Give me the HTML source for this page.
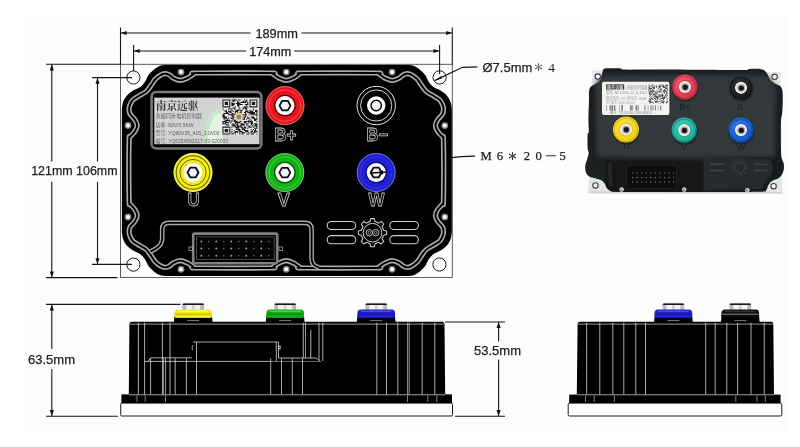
<!DOCTYPE html>
<html lang="zh">
<head>
<meta charset="utf-8">
<title>Controller dimensions</title>
<style>
  html, body { margin: 0; padding: 0; background: #ffffff; }
  body { width: 800px; height: 447px; overflow: hidden; position: relative;
         font-family: "Liberation Sans", "Noto Sans CJK SC", sans-serif; }
  svg { position: absolute; left: 0; top: 0; display: block; will-change: transform; filter: blur(0.4px); }
  .dim { font-family: "Liberation Sans", sans-serif; font-size: 13px; fill: #1c1c1c; stroke: #1c1c1c; stroke-width: 0.25px; }
  .ser { font-family: "Liberation Serif", "Noto Serif CJK SC", serif; fill: #1c1c1c; }
  .ln  { stroke: #1a1a1a; stroke-width: 1; fill: none; }
  .wl  { stroke: #ffffff; stroke-width: 0.8; fill: none; }
  .ol  { font-family: "Liberation Sans", sans-serif; fill: #000; stroke: #e2e2e2; stroke-width: 1; text-anchor: middle; }
</style>
</head>
<body>
<svg width="800" height="447" viewBox="0 0 800 447" role="img" aria-label="Controller dimension drawing">
  <rect x="0" y="0" width="800" height="447" fill="#ffffff"/>
  <rect x="26" y="16" width="762" height="417" fill="#fdfdfd"/>
  <g id="topview">
  <rect x="120.5" y="64.3" width="331.8" height="213.1" fill="#ffffff" stroke="#4a4a4a" stroke-width="0.9"/>
  <circle cx="133.4" cy="77.5" r="6.6" fill="#fff" stroke="#1a1a1a" stroke-width="1"/>
  <circle cx="439.6" cy="77.4" r="6.6" fill="#fff" stroke="#1a1a1a" stroke-width="1"/>
  <circle cx="133.4" cy="264.6" r="6.6" fill="#fff" stroke="#1a1a1a" stroke-width="1"/>
  <circle cx="439.4" cy="264.5" r="6.6" fill="#fff" stroke="#1a1a1a" stroke-width="1"/>
  <path fill="#000" transform="translate(0.55,0.1)" d="M121.3,108.5  C121.5,107.3 121.9,103.8 122.7,101.6 C123.6,99.4 124.8,97.2 126.4,95.4 C128.1,93.6 130.3,92 132.6,90.5 C134.9,89 138.1,88.1 140.1,86.6 C142.1,85.1 143.3,83.4 144.6,81.5 C145.9,79.6 146.5,77 148,75 C149.5,73 151.8,70.9 153.6,69.4 C155.5,67.9 157.4,66.7 159.1,66 C160.8,65.3 162.9,65.2 163.6,65 L409,65  C409.8,65.2 411.8,65.3 413.5,66 C415.2,66.7 417.1,67.9 419,69.4 C420.9,70.9 423.1,73 424.6,75 C426.1,77 426.7,79.6 428,81.5 C429.3,83.4 430.5,85.1 432.5,86.6 C434.5,88.1 437.7,89 440,90.5 C442.3,92 444.6,93.6 446.2,95.4 C447.8,97.2 449,99.4 449.9,101.6 C450.8,103.8 451.1,107.3 451.3,108.5 L451.3,232.5  C451.1,233.7 450.8,237.2 449.9,239.4 C449,241.6 447.8,243.8 446.2,245.6 C444.6,247.4 442.3,249 440,250.5 C437.7,252 434.5,252.9 432.5,254.4 C430.5,255.9 429.3,257.6 428,259.5 C426.7,261.4 426.1,264 424.6,266 C423.1,268 420.9,270.1 419,271.6 C417.1,273.1 415.2,274.3 413.5,275 C411.8,275.7 409.8,275.8 409,276 L163.6,276  C162.9,275.8 160.8,275.7 159.1,275 C157.4,274.3 155.5,273.1 153.6,271.6 C151.8,270.1 149.5,268 148,266 C146.5,264 145.9,261.4 144.6,259.5 C143.3,257.6 142.1,255.9 140.1,254.4 C138.1,252.9 134.9,252 132.6,250.5 C130.3,249 128.1,247.4 126.4,245.6 C124.8,243.8 123.6,241.6 122.7,239.4 C121.9,237.2 121.5,233.7 121.3,232.5Z"/>
  <path d="M286.3,80.4 C288.6,80.4 291.1,79.1 293.3,78.1 C295.5,77.1 297.5,75.1 299.3,74.2 C301.1,73.3 291.8,73.2 304.3,73 C316.8,72.8 361.6,72.8 374.1,73 C386.6,73.2 377.3,73.3 379.1,74.2 C380.9,75.1 382.9,77.1 385.1,78.1 C387.3,79.1 389.8,80.4 392.1,80.4 C394.4,80.4 397.3,79 399.1,78.1 C400.9,77.2 401.8,75.8 403,75.1 C404.2,74.4 405.3,73.9 406.3,73.7 C407.3,73.5 408.2,73.7 409.2,73.9 C410.2,74.2 410.8,74.3 412.2,75.2 C413.6,76.1 416.1,77.8 417.6,79.5 C419.1,81.2 419.9,83.1 421.4,85.1 C422.9,87.1 424.4,89.8 426.5,91.6 C428.6,93.4 431.9,94.8 434.2,96.2 C436.4,97.6 438.6,98.7 440,100.2 C441.4,101.7 442.2,103.8 442.8,105.4 C443.4,107 443.6,108.1 443.5,109.6 C443.4,111 443.4,112.4 442.5,114.1 C441.6,115.8 439,117.7 437.8,119.6 C436.6,121.5 435.4,123.6 435.4,125.6 C435.4,127.6 436.6,129.7 437.8,131.6 C439,133.5 441.6,135.3 442.5,137.1 C443.4,138.8 443.3,131.8 443.5,142.1 C443.7,152.4 443.7,188.6 443.5,198.9 C443.3,209.2 443.4,202.2 442.5,203.9 C441.6,205.7 439,207.5 437.8,209.4 C436.6,211.3 435.4,213.4 435.4,215.4 C435.4,217.4 436.6,219.5 437.8,221.4 C439,223.3 441.6,225.2 442.5,226.9 C443.4,228.6 443.4,230 443.5,231.4 C443.6,232.8 443.4,234 442.8,235.6 C442.2,237.2 441.4,239.3 440,240.8 C438.6,242.3 436.4,243.4 434.2,244.8 C431.9,246.2 428.6,247.6 426.5,249.4 C424.4,251.2 422.9,253.9 421.4,255.9 C419.9,257.9 419.1,259.9 417.6,261.5 C416.1,263.1 413.6,264.9 412.2,265.8 C410.8,266.7 410.2,266.9 409.2,267.1 C408.2,267.4 407.3,267.5 406.3,267.3 C405.3,267.1 404.2,266.6 403,265.9 C401.8,265.2 400.9,263.8 399.1,262.9 C397.3,262 394.4,260.6 392.1,260.6 C389.8,260.6 387.3,261.9 385.1,262.9 C382.9,263.9 380.9,265.9 379.1,266.8 C377.3,267.7 386.6,267.8 374.1,268 C361.6,268.2 316.8,268.2 304.3,268 C291.8,267.8 301.1,267.7 299.3,266.8 C297.5,265.9 295.5,263.9 293.3,262.9 C291.1,261.9 288.6,260.6 286.3,260.6 C284,260.6 281.5,261.9 279.3,262.9 C277.1,263.9 275.1,265.9 273.3,266.8 C271.5,267.7 280.8,267.8 268.3,268 C255.8,268.2 211,268.2 198.5,268 C186,267.8 195.3,267.7 193.5,266.8 C191.7,265.9 189.7,263.9 187.5,262.9 C185.3,261.9 182.8,260.6 180.5,260.6 C178.2,260.6 175.3,262 173.5,262.9 C171.7,263.8 170.8,265.2 169.6,265.9 C168.4,266.6 167.3,267.1 166.3,267.3 C165.3,267.5 164.4,267.4 163.4,267.1 C162.4,266.9 161.8,266.7 160.4,265.8 C159,264.9 156.5,263.1 155,261.5 C153.5,259.9 152.7,257.9 151.2,255.9 C149.7,253.9 148.2,251.2 146.1,249.4 C144,247.6 140.7,246.2 138.4,244.8 C136.2,243.4 134,242.3 132.6,240.8 C131.2,239.3 130.4,237.2 129.8,235.6 C129.2,234 129.1,232.8 129.1,231.4 C129.2,230 129.2,228.6 130.1,226.9 C131.1,225.2 133.6,223.3 134.8,221.4 C136,219.5 137.2,217.4 137.2,215.4 C137.2,213.4 136,211.3 134.8,209.4 C133.6,207.5 131.1,205.7 130.1,203.9 C129.2,202.2 129.3,209.2 129.1,198.9 C128.9,188.6 128.9,152.4 129.1,142.1 C129.3,131.8 129.2,138.8 130.1,137.1 C131.1,135.3 133.6,133.5 134.8,131.6 C136,129.7 137.2,127.6 137.2,125.6 C137.2,123.6 136,121.5 134.8,119.6 C133.6,117.7 131.1,115.8 130.1,114.1 C129.2,112.4 129.2,111 129.1,109.6 C129.1,108.1 129.2,107 129.8,105.4 C130.4,103.8 131.2,101.7 132.6,100.2 C134,98.7 136.2,97.6 138.4,96.2 C140.7,94.8 144,93.4 146.1,91.6 C148.2,89.8 149.7,87.1 151.2,85.1 C152.7,83.1 153.5,81.2 155,79.5 C156.5,77.8 159,76.1 160.4,75.2 C161.8,74.3 162.4,74.2 163.4,73.9 C164.4,73.7 165.3,73.5 166.3,73.7 C167.3,73.9 168.4,74.4 169.6,75.1 C170.8,75.8 171.7,77.2 173.5,78.1 C175.3,79 178.2,80.4 180.5,80.4 C182.8,80.4 185.3,79.1 187.5,78.1 C189.7,77.1 191.7,75.1 193.5,74.2 C195.3,73.3 186,73.2 198.5,73 C211,72.8 255.8,72.8 268.3,73 C280.8,73.2 271.5,73.3 273.3,74.2 C275.1,75.1 277.1,77.1 279.3,78.1 C281.5,79.1 284,80.4 286.3,80.4Z" fill="none" stroke="#aaaaaa" stroke-width="5.2" stroke-linejoin="round"/>
  <path d="M286.3,80.4 C288.6,80.4 291.1,79.1 293.3,78.1 C295.5,77.1 297.5,75.1 299.3,74.2 C301.1,73.3 291.8,73.2 304.3,73 C316.8,72.8 361.6,72.8 374.1,73 C386.6,73.2 377.3,73.3 379.1,74.2 C380.9,75.1 382.9,77.1 385.1,78.1 C387.3,79.1 389.8,80.4 392.1,80.4 C394.4,80.4 397.3,79 399.1,78.1 C400.9,77.2 401.8,75.8 403,75.1 C404.2,74.4 405.3,73.9 406.3,73.7 C407.3,73.5 408.2,73.7 409.2,73.9 C410.2,74.2 410.8,74.3 412.2,75.2 C413.6,76.1 416.1,77.8 417.6,79.5 C419.1,81.2 419.9,83.1 421.4,85.1 C422.9,87.1 424.4,89.8 426.5,91.6 C428.6,93.4 431.9,94.8 434.2,96.2 C436.4,97.6 438.6,98.7 440,100.2 C441.4,101.7 442.2,103.8 442.8,105.4 C443.4,107 443.6,108.1 443.5,109.6 C443.4,111 443.4,112.4 442.5,114.1 C441.6,115.8 439,117.7 437.8,119.6 C436.6,121.5 435.4,123.6 435.4,125.6 C435.4,127.6 436.6,129.7 437.8,131.6 C439,133.5 441.6,135.3 442.5,137.1 C443.4,138.8 443.3,131.8 443.5,142.1 C443.7,152.4 443.7,188.6 443.5,198.9 C443.3,209.2 443.4,202.2 442.5,203.9 C441.6,205.7 439,207.5 437.8,209.4 C436.6,211.3 435.4,213.4 435.4,215.4 C435.4,217.4 436.6,219.5 437.8,221.4 C439,223.3 441.6,225.2 442.5,226.9 C443.4,228.6 443.4,230 443.5,231.4 C443.6,232.8 443.4,234 442.8,235.6 C442.2,237.2 441.4,239.3 440,240.8 C438.6,242.3 436.4,243.4 434.2,244.8 C431.9,246.2 428.6,247.6 426.5,249.4 C424.4,251.2 422.9,253.9 421.4,255.9 C419.9,257.9 419.1,259.9 417.6,261.5 C416.1,263.1 413.6,264.9 412.2,265.8 C410.8,266.7 410.2,266.9 409.2,267.1 C408.2,267.4 407.3,267.5 406.3,267.3 C405.3,267.1 404.2,266.6 403,265.9 C401.8,265.2 400.9,263.8 399.1,262.9 C397.3,262 394.4,260.6 392.1,260.6 C389.8,260.6 387.3,261.9 385.1,262.9 C382.9,263.9 380.9,265.9 379.1,266.8 C377.3,267.7 386.6,267.8 374.1,268 C361.6,268.2 316.8,268.2 304.3,268 C291.8,267.8 301.1,267.7 299.3,266.8 C297.5,265.9 295.5,263.9 293.3,262.9 C291.1,261.9 288.6,260.6 286.3,260.6 C284,260.6 281.5,261.9 279.3,262.9 C277.1,263.9 275.1,265.9 273.3,266.8 C271.5,267.7 280.8,267.8 268.3,268 C255.8,268.2 211,268.2 198.5,268 C186,267.8 195.3,267.7 193.5,266.8 C191.7,265.9 189.7,263.9 187.5,262.9 C185.3,261.9 182.8,260.6 180.5,260.6 C178.2,260.6 175.3,262 173.5,262.9 C171.7,263.8 170.8,265.2 169.6,265.9 C168.4,266.6 167.3,267.1 166.3,267.3 C165.3,267.5 164.4,267.4 163.4,267.1 C162.4,266.9 161.8,266.7 160.4,265.8 C159,264.9 156.5,263.1 155,261.5 C153.5,259.9 152.7,257.9 151.2,255.9 C149.7,253.9 148.2,251.2 146.1,249.4 C144,247.6 140.7,246.2 138.4,244.8 C136.2,243.4 134,242.3 132.6,240.8 C131.2,239.3 130.4,237.2 129.8,235.6 C129.2,234 129.1,232.8 129.1,231.4 C129.2,230 129.2,228.6 130.1,226.9 C131.1,225.2 133.6,223.3 134.8,221.4 C136,219.5 137.2,217.4 137.2,215.4 C137.2,213.4 136,211.3 134.8,209.4 C133.6,207.5 131.1,205.7 130.1,203.9 C129.2,202.2 129.3,209.2 129.1,198.9 C128.9,188.6 128.9,152.4 129.1,142.1 C129.3,131.8 129.2,138.8 130.1,137.1 C131.1,135.3 133.6,133.5 134.8,131.6 C136,129.7 137.2,127.6 137.2,125.6 C137.2,123.6 136,121.5 134.8,119.6 C133.6,117.7 131.1,115.8 130.1,114.1 C129.2,112.4 129.2,111 129.1,109.6 C129.1,108.1 129.2,107 129.8,105.4 C130.4,103.8 131.2,101.7 132.6,100.2 C134,98.7 136.2,97.6 138.4,96.2 C140.7,94.8 144,93.4 146.1,91.6 C148.2,89.8 149.7,87.1 151.2,85.1 C152.7,83.1 153.5,81.2 155,79.5 C156.5,77.8 159,76.1 160.4,75.2 C161.8,74.3 162.4,74.2 163.4,73.9 C164.4,73.7 165.3,73.5 166.3,73.7 C167.3,73.9 168.4,74.4 169.6,75.1 C170.8,75.8 171.7,77.2 173.5,78.1 C175.3,79 178.2,80.4 180.5,80.4 C182.8,80.4 185.3,79.1 187.5,78.1 C189.7,77.1 191.7,75.1 193.5,74.2 C195.3,73.3 186,73.2 198.5,73 C211,72.8 255.8,72.8 268.3,73 C280.8,73.2 271.5,73.3 273.3,74.2 C275.1,75.1 277.1,77.1 279.3,78.1 C281.5,79.1 284,80.4 286.3,80.4Z" fill="none" stroke="#000" stroke-width="1.9" stroke-linejoin="round"/>
  <path d="M150.5,251.5 C151.4,251 154.3,249.7 156,248.5 C157.7,247.3 159.5,246.1 160.5,244.5 C161.5,242.9 161.9,239.9 162.2,239 L162.2,229.5 Q162.2,222.9 169,222.9 L305,222.9 Q311.6,222.9 311.6,229.5 L311.6,258 C311.6,263 314,266.5 319,267.3" fill="none" stroke="#aaaaaa" stroke-width="4.6" stroke-linejoin="round"/>
  <path d="M150.5,251.5 C151.4,251 154.3,249.7 156,248.5 C157.7,247.3 159.5,246.1 160.5,244.5 C161.5,242.9 161.9,239.9 162.2,239 L162.2,229.5 Q162.2,222.9 169,222.9 L305,222.9 Q311.6,222.9 311.6,229.5 L311.6,258 C311.6,263 314,266.5 319,267.3" fill="none" stroke="#000" stroke-width="1.9" stroke-linejoin="round"/>
  <circle cx="181" cy="72.1" r="2.7" fill="#fff" stroke="#858585" stroke-width="1.4"/>
  <circle cx="286.3" cy="72.1" r="2.7" fill="#fff" stroke="#858585" stroke-width="1.4"/>
  <circle cx="392.1" cy="72.1" r="2.7" fill="#fff" stroke="#858585" stroke-width="1.4"/>
  <circle cx="181" cy="269.3" r="2.7" fill="#fff" stroke="#858585" stroke-width="1.4"/>
  <circle cx="286.3" cy="269.3" r="2.7" fill="#fff" stroke="#858585" stroke-width="1.4"/>
  <circle cx="392.1" cy="269.3" r="2.7" fill="#fff" stroke="#858585" stroke-width="1.4"/>
  <circle cx="128" cy="125.4" r="2.7" fill="#fff" stroke="#858585" stroke-width="1.4"/>
  <circle cx="128" cy="217" r="2.7" fill="#fff" stroke="#858585" stroke-width="1.4"/>
  <circle cx="444.8" cy="125.6" r="2.7" fill="#fff" stroke="#858585" stroke-width="1.4"/>
  <circle cx="444.8" cy="217" r="2.7" fill="#fff" stroke="#858585" stroke-width="1.4"/>
  <rect x="151.6" y="92" width="109.8" height="56.4" rx="4.5" fill="#000" stroke="#7a7a7a" stroke-width="2.5"/>
  <rect x="154.3" y="97.6" width="105.2" height="46.6" fill="#d3d3d3"/>
  <path d="M203.4,144 C203,128 208,111 218,108.8 C220.5,108.4 222,109 223,110 L223,144 Z" fill="#c6e8c6"/>
  <path d="M207.5,144 C207.5,130 211.5,116 219,113.6 C221,113.2 222,113.6 223,114.4 L223,144 Z" fill="#e4f4e4"/>
  <text x="155.8" y="109.9" font-family="'Liberation Serif','Noto Serif CJK SC',serif" font-size="10.8" font-weight="700" fill="#383838" textLength="42.6" lengthAdjust="spacingAndGlyphs">南京远驱</text>
  <g font-family="'Liberation Sans','Noto Sans CJK SC',sans-serif" font-size="5.2" fill="#5c5c5c">
  <text x="155.6" y="118.2" textLength="46.4" lengthAdjust="spacingAndGlyphs">永磁同步电机控制器</text>
  <text x="155.6" y="126.9" textLength="38" lengthAdjust="spacingAndGlyphs">功率: 60V/3.5KW</text>
  <text x="155.6" y="134.9" textLength="64" lengthAdjust="spacingAndGlyphs">型号: YQ60V35_415_3.0V00</text>
  <text x="155.6" y="142.5" textLength="72.5" lengthAdjust="spacingAndGlyphs">编号: YQ6354592017-03-020003</text>
  </g>
  <rect x="221.8" y="98.9" width="36.2" height="36.2" fill="#e9e9e9"/><path d="M222.4,99.5h7.9v1.1h-7.9zM231.4,99.5h5.6v1.1h-5.6zM238.2,99.5h2.3v1.1h-2.3zM243.9,99.5h1.1v1.1h-1.1zM246.1,99.5h1.1v1.1h-1.1zM249.5,99.5h7.9v1.1h-7.9zM222.4,100.6h1.1v1.1h-1.1zM229.2,100.6h1.1v1.1h-1.1zM232.6,100.6h2.3v1.1h-2.3zM237.1,100.6h1.1v1.1h-1.1zM242.7,100.6h1.1v1.1h-1.1zM245,100.6h2.3v1.1h-2.3zM249.5,100.6h1.1v1.1h-1.1zM256.3,100.6h1.1v1.1h-1.1zM222.4,101.8h1.1v1.1h-1.1zM224.7,101.8h3.4v1.1h-3.4zM229.2,101.8h1.1v1.1h-1.1zM231.4,101.8h1.1v1.1h-1.1zM237.1,101.8h2.3v1.1h-2.3zM240.5,101.8h5.6v1.1h-5.6zM247.2,101.8h1.1v1.1h-1.1zM249.5,101.8h1.1v1.1h-1.1zM251.8,101.8h3.4v1.1h-3.4zM256.3,101.8h1.1v1.1h-1.1zM222.4,102.9h1.1v1.1h-1.1zM224.7,102.9h3.4v1.1h-3.4zM229.2,102.9h1.1v1.1h-1.1zM231.4,102.9h3.4v1.1h-3.4zM235.9,102.9h4.5v1.1h-4.5zM247.2,102.9h1.1v1.1h-1.1zM249.5,102.9h1.1v1.1h-1.1zM251.8,102.9h3.4v1.1h-3.4zM256.3,102.9h1.1v1.1h-1.1zM222.4,104h1.1v1.1h-1.1zM224.7,104h3.4v1.1h-3.4zM229.2,104h1.1v1.1h-1.1zM231.4,104h3.4v1.1h-3.4zM237.1,104h5.6v1.1h-5.6zM245,104h3.4v1.1h-3.4zM249.5,104h1.1v1.1h-1.1zM251.8,104h3.4v1.1h-3.4zM256.3,104h1.1v1.1h-1.1zM222.4,105.1h1.1v1.1h-1.1zM229.2,105.1h1.1v1.1h-1.1zM231.4,105.1h2.3v1.1h-2.3zM237.1,105.1h2.3v1.1h-2.3zM246.1,105.1h1.1v1.1h-1.1zM249.5,105.1h1.1v1.1h-1.1zM256.3,105.1h1.1v1.1h-1.1zM222.4,106.3h7.9v1.1h-7.9zM234.8,106.3h1.1v1.1h-1.1zM238.2,106.3h1.1v1.1h-1.1zM243.9,106.3h2.3v1.1h-2.3zM247.2,106.3h1.1v1.1h-1.1zM249.5,106.3h7.9v1.1h-7.9zM232.6,107.4h2.3v1.1h-2.3zM239.3,107.4h1.1v1.1h-1.1zM242.7,107.4h4.5v1.1h-4.5zM222.4,108.5h1.1v1.1h-1.1zM228,108.5h4.5v1.1h-4.5zM233.7,108.5h2.3v1.1h-2.3zM238.2,108.5h1.1v1.1h-1.1zM242.7,108.5h1.1v1.1h-1.1zM245,108.5h2.3v1.1h-2.3zM252.9,108.5h1.1v1.1h-1.1zM223.5,109.7h1.1v1.1h-1.1zM225.8,109.7h1.1v1.1h-1.1zM231.4,109.7h1.1v1.1h-1.1zM235.9,109.7h6.8v1.1h-6.8zM246.1,109.7h1.1v1.1h-1.1zM249.5,109.7h1.1v1.1h-1.1zM252.9,109.7h1.1v1.1h-1.1zM255.1,109.7h2.3v1.1h-2.3zM224.7,110.8h2.3v1.1h-2.3zM228,110.8h3.4v1.1h-3.4zM232.6,110.8h1.1v1.1h-1.1zM234.8,110.8h3.4v1.1h-3.4zM240.5,110.8h1.1v1.1h-1.1zM245,110.8h3.4v1.1h-3.4zM249.5,110.8h3.4v1.1h-3.4zM255.1,110.8h2.3v1.1h-2.3zM225.8,111.9h2.3v1.1h-2.3zM229.2,111.9h2.3v1.1h-2.3zM234.8,111.9h1.1v1.1h-1.1zM237.1,111.9h1.1v1.1h-1.1zM239.3,111.9h2.3v1.1h-2.3zM243.9,111.9h2.3v1.1h-2.3zM247.2,111.9h7.9v1.1h-7.9zM256.3,111.9h1.1v1.1h-1.1zM223.5,113h5.6v1.1h-5.6zM231.4,113h2.3v1.1h-2.3zM234.8,113h1.1v1.1h-1.1zM237.1,113h2.3v1.1h-2.3zM240.5,113h1.1v1.1h-1.1zM245,113h1.1v1.1h-1.1zM249.5,113h5.6v1.1h-5.6zM256.3,113h1.1v1.1h-1.1zM222.4,114.2h2.3v1.1h-2.3zM228,114.2h7.9v1.1h-7.9zM239.3,114.2h1.1v1.1h-1.1zM241.6,114.2h5.6v1.1h-5.6zM248.4,114.2h1.1v1.1h-1.1zM250.6,114.2h6.8v1.1h-6.8zM222.4,115.3h2.3v1.1h-2.3zM231.4,115.3h2.3v1.1h-2.3zM234.8,115.3h1.1v1.1h-1.1zM238.2,115.3h1.1v1.1h-1.1zM245,115.3h1.1v1.1h-1.1zM256.3,115.3h1.1v1.1h-1.1zM222.4,116.4h4.5v1.1h-4.5zM232.6,116.4h2.3v1.1h-2.3zM240.5,116.4h1.1v1.1h-1.1zM242.7,116.4h3.4v1.1h-3.4zM247.2,116.4h1.1v1.1h-1.1zM250.6,116.4h3.4v1.1h-3.4zM223.5,117.6h3.4v1.1h-3.4zM228,117.6h1.1v1.1h-1.1zM230.3,117.6h3.4v1.1h-3.4zM237.1,117.6h1.1v1.1h-1.1zM239.3,117.6h3.4v1.1h-3.4zM243.9,117.6h1.1v1.1h-1.1zM247.2,117.6h2.3v1.1h-2.3zM251.8,117.6h3.4v1.1h-3.4zM256.3,117.6h1.1v1.1h-1.1zM223.5,118.7h1.1v1.1h-1.1zM226.9,118.7h1.1v1.1h-1.1zM232.6,118.7h1.1v1.1h-1.1zM234.8,118.7h10.2v1.1h-10.2zM246.1,118.7h1.1v1.1h-1.1zM249.5,118.7h1.1v1.1h-1.1zM254,118.7h3.4v1.1h-3.4zM224.7,119.8h5.6v1.1h-5.6zM231.4,119.8h1.1v1.1h-1.1zM233.7,119.8h2.3v1.1h-2.3zM237.1,119.8h2.3v1.1h-2.3zM248.4,119.8h1.1v1.1h-1.1zM250.6,119.8h1.1v1.1h-1.1zM254,119.8h2.3v1.1h-2.3zM222.4,121h4.5v1.1h-4.5zM229.2,121h1.1v1.1h-1.1zM231.4,121h1.1v1.1h-1.1zM233.7,121h4.5v1.1h-4.5zM239.3,121h2.3v1.1h-2.3zM243.9,121h9v1.1h-9zM256.3,121h1.1v1.1h-1.1zM222.4,122.1h1.1v1.1h-1.1zM224.7,122.1h4.5v1.1h-4.5zM230.3,122.1h1.1v1.1h-1.1zM234.8,122.1h5.6v1.1h-5.6zM243.9,122.1h2.3v1.1h-2.3zM248.4,122.1h1.1v1.1h-1.1zM250.6,122.1h2.3v1.1h-2.3zM222.4,123.2h3.4v1.1h-3.4zM232.6,123.2h1.1v1.1h-1.1zM234.8,123.2h1.1v1.1h-1.1zM237.1,123.2h1.1v1.1h-1.1zM240.5,123.2h3.4v1.1h-3.4zM246.1,123.2h2.3v1.1h-2.3zM250.6,123.2h2.3v1.1h-2.3zM254,123.2h3.4v1.1h-3.4zM225.8,124.3h3.4v1.1h-3.4zM231.4,124.3h3.4v1.1h-3.4zM235.9,124.3h2.3v1.1h-2.3zM240.5,124.3h4.5v1.1h-4.5zM246.1,124.3h1.1v1.1h-1.1zM250.6,124.3h1.1v1.1h-1.1zM252.9,124.3h1.1v1.1h-1.1zM255.1,124.3h2.3v1.1h-2.3zM232.6,125.5h3.4v1.1h-3.4zM237.1,125.5h4.5v1.1h-4.5zM247.2,125.5h2.3v1.1h-2.3zM251.8,125.5h1.1v1.1h-1.1zM254,125.5h3.4v1.1h-3.4zM222.4,126.6h7.9v1.1h-7.9zM231.4,126.6h1.1v1.1h-1.1zM234.8,126.6h4.5v1.1h-4.5zM240.5,126.6h2.3v1.1h-2.3zM243.9,126.6h2.3v1.1h-2.3zM248.4,126.6h3.4v1.1h-3.4zM252.9,126.6h1.1v1.1h-1.1zM256.3,126.6h1.1v1.1h-1.1zM222.4,127.7h1.1v1.1h-1.1zM229.2,127.7h1.1v1.1h-1.1zM235.9,127.7h3.4v1.1h-3.4zM241.6,127.7h4.5v1.1h-4.5zM247.2,127.7h1.1v1.1h-1.1zM254,127.7h3.4v1.1h-3.4zM222.4,128.9h1.1v1.1h-1.1zM224.7,128.9h3.4v1.1h-3.4zM229.2,128.9h1.1v1.1h-1.1zM231.4,128.9h1.1v1.1h-1.1zM235.9,128.9h4.5v1.1h-4.5zM241.6,128.9h3.4v1.1h-3.4zM250.6,128.9h1.1v1.1h-1.1zM252.9,128.9h1.1v1.1h-1.1zM255.1,128.9h1.1v1.1h-1.1zM222.4,130h1.1v1.1h-1.1zM224.7,130h3.4v1.1h-3.4zM229.2,130h1.1v1.1h-1.1zM233.7,130h1.1v1.1h-1.1zM238.2,130h2.3v1.1h-2.3zM243.9,130h4.5v1.1h-4.5zM251.8,130h1.1v1.1h-1.1zM254,130h2.3v1.1h-2.3zM222.4,131.1h1.1v1.1h-1.1zM224.7,131.1h3.4v1.1h-3.4zM229.2,131.1h1.1v1.1h-1.1zM231.4,131.1h1.1v1.1h-1.1zM234.8,131.1h3.4v1.1h-3.4zM239.3,131.1h3.4v1.1h-3.4zM245,131.1h3.4v1.1h-3.4zM250.6,131.1h2.3v1.1h-2.3zM254,131.1h3.4v1.1h-3.4zM222.4,132.2h1.1v1.1h-1.1zM229.2,132.2h1.1v1.1h-1.1zM231.4,132.2h1.1v1.1h-1.1zM233.7,132.2h2.3v1.1h-2.3zM237.1,132.2h1.1v1.1h-1.1zM239.3,132.2h1.1v1.1h-1.1zM241.6,132.2h3.4v1.1h-3.4zM248.4,132.2h1.1v1.1h-1.1zM250.6,132.2h1.1v1.1h-1.1zM252.9,132.2h2.3v1.1h-2.3zM222.4,133.4h7.9v1.1h-7.9zM231.4,133.4h2.3v1.1h-2.3zM234.8,133.4h1.1v1.1h-1.1zM239.3,133.4h1.1v1.1h-1.1zM241.6,133.4h2.3v1.1h-2.3zM246.1,133.4h3.4v1.1h-3.4zM250.6,133.4h3.4v1.1h-3.4zM256.3,133.4h1.1v1.1h-1.1z" fill="#1c1c1c"/><circle cx="238.8" cy="117" r="4.6" fill="#d9cf9c"/><circle cx="238.8" cy="117" r="2.4" fill="#8f8a6a"/>
  <circle cx="285" cy="105.6" r="19.4" fill="#e6141c"/>
    <circle cx="285" cy="105.6" r="19" fill="none" stroke="#ffd0d0" stroke-width="0.7" opacity="0.7"/>
    <circle cx="285" cy="105.6" r="15.8" fill="none" stroke="#f86a6a" stroke-width="0.9" opacity="0.8"/>
    <circle cx="285" cy="105.6" r="10.3" fill="none" stroke="#5a0000" stroke-width="1.1"/>
    <circle cx="285" cy="105.6" r="9.5" fill="#ffffff"/>
    <path d="M290.5,105.6 L287.8,110.4 L282.2,110.4 L279.5,105.6 L282.2,100.8 L287.8,100.8Z" fill="#f1f2f4" stroke="#0c0c16" stroke-width="1.8" stroke-linejoin="round"/>
  <circle cx="376.2" cy="105.5" r="19.2" fill="#000" stroke="#e6e6e6" stroke-width="1"/>
  <circle cx="376.2" cy="105.5" r="15.6" fill="none" stroke="#d8d8d8" stroke-width="1"/>
  <circle cx="376.2" cy="105.5" r="9.2" fill="#fff"/>
  <circle cx="376.2" cy="105.5" r="5.2" fill="#f4f4f4" stroke="#000" stroke-width="1.4"/>
  <circle cx="193" cy="172.5" r="19.4" fill="#f2ec1c"/>
    <circle cx="193" cy="172.5" r="19" fill="none" stroke="#fffcb0" stroke-width="0.7" opacity="0.7"/>
    <circle cx="193" cy="172.5" r="13.1" fill="none" stroke="#55530a" stroke-width="1" opacity="0.85"/>
    <circle cx="193" cy="172.5" r="16.8" fill="none" stroke="#55530a" stroke-width="1.1" opacity="0.85"/>
    <circle cx="193" cy="172.5" r="9.5" fill="#ffffff"/>
    <path d="M198.5,172.5 L195.8,177.3 L190.2,177.3 L187.5,172.5 L190.2,167.7 L195.8,167.7Z" fill="#f1f2f4" stroke="#0c0c16" stroke-width="1.8" stroke-linejoin="round"/>
  <circle cx="284.8" cy="172.6" r="19.4" fill="#14b214"/>
    <circle cx="284.8" cy="172.6" r="19" fill="none" stroke="#d0f4d0" stroke-width="0.7" opacity="0.7"/>
    <circle cx="284.8" cy="172.6" r="15.8" fill="none" stroke="#52dc52" stroke-width="0.9" opacity="0.8"/>
    <circle cx="284.8" cy="172.6" r="10.3" fill="none" stroke="#064e06" stroke-width="1.1"/>
    <circle cx="284.8" cy="172.6" r="9.5" fill="#ffffff"/>
    <path d="M290.3,172.6 L287.6,177.4 L282.1,177.4 L279.3,172.6 L282.1,167.8 L287.6,167.8Z" fill="#f1f2f4" stroke="#0c0c16" stroke-width="1.8" stroke-linejoin="round"/>
  <circle cx="376.2" cy="172.5" r="19.4" fill="#2020d2"/>
    <circle cx="376.2" cy="172.5" r="19" fill="none" stroke="#d0d0f8" stroke-width="0.7" opacity="0.7"/>
    <circle cx="376.2" cy="172.5" r="15.8" fill="none" stroke="#3a3aea" stroke-width="0.9" opacity="0.8"/>
    <circle cx="376.2" cy="172.5" r="10.3" fill="none" stroke="#0c0c70" stroke-width="1.1"/>
    <circle cx="376.2" cy="172.5" r="9.5" fill="#ffffff"/>
    <path d="M381.7,172.5 L378.9,177.3 L373.4,177.3 L370.7,172.5 L373.4,167.7 L378.9,167.7Z" fill="#f1f2f4" stroke="#0c0c16" stroke-width="1.8" stroke-linejoin="round"/>
  <path d="M370.6,173 L386.5,172.2" stroke="#000" stroke-width="1.3" fill="none"/>
  <path d="M376.5,172.6 L383,170.6 L383,174.2 Z" fill="#000"/>
  <g font-family="'Liberation Sans',sans-serif" font-weight="700" font-size="18.8" fill="#000" stroke="#d0d0d0" stroke-width="0.8" stroke-linejoin="round">
  <text x="274.3" y="140.7" textLength="22.2" lengthAdjust="spacingAndGlyphs">B+</text>
  <text x="366.3" y="140.7" textLength="22" lengthAdjust="spacingAndGlyphs">B−</text>
  <text x="187.4" y="206.2" textLength="12.2" lengthAdjust="spacingAndGlyphs">U</text>
  <text x="277.7" y="206.2" textLength="12" lengthAdjust="spacingAndGlyphs">V</text>
  <text x="368.4" y="206.2" textLength="16" lengthAdjust="spacingAndGlyphs">W</text>
  </g>
  <rect x="193.2" y="233.6" width="84" height="29.6" rx="1.5" fill="#000" stroke="#808080" stroke-width="2.6"/>
  <rect x="196.6" y="236.8" width="77.6" height="22.8" fill="#050505" stroke="#5a5a5a" stroke-width="0.8"/>
  <rect x="189" y="247" width="3.4" height="3.6" fill="none" stroke="#bdbdbd" stroke-width="0.7"/>
  <rect x="279" y="247" width="3.4" height="3.6" fill="none" stroke="#bdbdbd" stroke-width="0.7"/>
  <circle cx="201.3" cy="241.6" r="1.0" fill="#9c9c9c"/><circle cx="208.8" cy="241.6" r="0.8" fill="#6c6c6c"/><circle cx="216.3" cy="241.6" r="1.0" fill="#9c9c9c"/><circle cx="223.8" cy="241.6" r="0.8" fill="#6c6c6c"/><circle cx="231.3" cy="241.6" r="1.0" fill="#9c9c9c"/><circle cx="238.8" cy="241.6" r="0.8" fill="#6c6c6c"/><circle cx="246.3" cy="241.6" r="1.0" fill="#9c9c9c"/><circle cx="253.8" cy="241.6" r="0.8" fill="#6c6c6c"/><circle cx="261.3" cy="241.6" r="1.0" fill="#9c9c9c"/><circle cx="268.8" cy="241.6" r="0.8" fill="#6c6c6c"/><circle cx="201.3" cy="248.6" r="1.0" fill="#9c9c9c"/><circle cx="208.8" cy="248.6" r="0.8" fill="#6c6c6c"/><circle cx="216.3" cy="248.6" r="1.0" fill="#9c9c9c"/><circle cx="223.8" cy="248.6" r="0.8" fill="#6c6c6c"/><circle cx="231.3" cy="248.6" r="1.0" fill="#9c9c9c"/><circle cx="238.8" cy="248.6" r="0.8" fill="#6c6c6c"/><circle cx="246.3" cy="248.6" r="1.0" fill="#9c9c9c"/><circle cx="253.8" cy="248.6" r="0.8" fill="#6c6c6c"/><circle cx="261.3" cy="248.6" r="1.0" fill="#9c9c9c"/><circle cx="268.8" cy="248.6" r="0.8" fill="#6c6c6c"/><circle cx="201.3" cy="255.7" r="1.0" fill="#9c9c9c"/><circle cx="208.8" cy="255.7" r="0.8" fill="#6c6c6c"/><circle cx="216.3" cy="255.7" r="1.0" fill="#9c9c9c"/><circle cx="223.8" cy="255.7" r="0.8" fill="#6c6c6c"/><circle cx="231.3" cy="255.7" r="1.0" fill="#9c9c9c"/><circle cx="238.8" cy="255.7" r="0.8" fill="#6c6c6c"/><circle cx="246.3" cy="255.7" r="1.0" fill="#9c9c9c"/><circle cx="253.8" cy="255.7" r="0.8" fill="#6c6c6c"/><circle cx="261.3" cy="255.7" r="1.0" fill="#9c9c9c"/><circle cx="268.8" cy="255.7" r="0.8" fill="#6c6c6c"/>
  <rect x="327.2" y="221.4" width="28.6" height="8.2" rx="4.1" fill="none" stroke="#d2d2d2" stroke-width="1.05"/>
  <rect x="327.2" y="235.6" width="28.6" height="8.2" rx="4.1" fill="none" stroke="#d2d2d2" stroke-width="1.05"/>
  <rect x="389.8" y="221.4" width="28.6" height="8.2" rx="4.1" fill="none" stroke="#d2d2d2" stroke-width="1.05"/>
  <rect x="389.8" y="235.6" width="28.6" height="8.2" rx="4.1" fill="none" stroke="#d2d2d2" stroke-width="1.05"/>
  <path d="M370,221.6 L370.7,218.6 L374.3,218.6 L375,221.6 L378.6,223.1 L381.2,221.4 L383.8,224 L382.1,226.6 L383.6,230.2 L386.6,230.9 L386.6,234.5 L383.6,235.2 L382.1,238.8 L383.8,241.4 L381.2,244 L378.6,242.3 L375,243.8 L374.3,246.8 L370.7,246.8 L370,243.8 L366.4,242.3 L363.8,244 L361.2,241.4 L362.9,238.8 L361.4,235.2 L358.4,234.5 L358.4,230.9 L361.4,230.2 L362.9,226.6 L361.2,224 L363.8,221.4 L366.4,223.1Z" fill="none" stroke="#d2d2d2" stroke-width="1.05" stroke-linejoin="round"/>
  <circle cx="372.5" cy="232.7" r="9.3" fill="none" stroke="#d2d2d2" stroke-width="1"/>
  <circle cx="369.3" cy="232.7" r="3.2" fill="none" stroke="#cfcfcf" stroke-width="0.9"/>
  <circle cx="375.7" cy="232.7" r="3.2" fill="none" stroke="#cfcfcf" stroke-width="0.9"/>
  <circle cx="369.3" cy="232.7" r="1.3" fill="none" stroke="#bdbdbd" stroke-width="0.7"/>
  <circle cx="375.7" cy="232.7" r="1.3" fill="none" stroke="#bdbdbd" stroke-width="0.7"/>
  </g>
  <g id="sideview">
  <path d="M128.8,395 L129.4,324 Q129.6,321.8 132,321.8 L442.2,321.8 Q444.4,321.8 444.5,324 L445.2,395 Z" fill="#000"/>
  <rect x="121.6" y="394.6" width="330.2" height="8.6" fill="#000"/>
  <rect x="120.7" y="403" width="331.8" height="13" rx="1.2" fill="#fff" stroke="#1a1a1a" stroke-width="1"/>
  <rect x="121.6" y="394.6" width="330.2" height="8.6" fill="#000"/>
  <line x1="130" y1="324.1" x2="444" y2="324.1" stroke="#bdbdbd" stroke-width="0.8"/>
  <line x1="129" y1="394.8" x2="445" y2="394.8" stroke="#c8c8c8" stroke-width="0.8"/>
  <line x1="138.4" y1="322.5" x2="138.4" y2="394.5" stroke="#d6d6d6" stroke-width="0.8"/>
  <line x1="144.6" y1="322.5" x2="144.6" y2="394.5" stroke="#d6d6d6" stroke-width="0.8"/>
  <line x1="162.4" y1="322.5" x2="162.4" y2="394.5" stroke="#d6d6d6" stroke-width="0.8"/>
  <line x1="170" y1="322.5" x2="170" y2="394.5" stroke="#d6d6d6" stroke-width="0.8"/>
  <line x1="150.6" y1="358" x2="150.6" y2="394.5" stroke="#d6d6d6" stroke-width="0.8"/>
  <line x1="175.2" y1="358" x2="175.2" y2="394.5" stroke="#d6d6d6" stroke-width="0.8"/>
  <line x1="186.4" y1="358" x2="186.4" y2="394.5" stroke="#d6d6d6" stroke-width="0.8"/>
  <line x1="163.6" y1="358" x2="163.6" y2="394.5" stroke="#d6d6d6" stroke-width="0.7"/>
  <line x1="165.6" y1="358" x2="165.6" y2="394.5" stroke="#d6d6d6" stroke-width="0.7"/>
  <line x1="196.5" y1="342" x2="196.5" y2="394.5" stroke="#d6d6d6" stroke-width="0.8"/>
  <line x1="193.2" y1="342" x2="278.5" y2="342" stroke="#d6d6d6" stroke-width="0.8"/>
  <line x1="276.3" y1="342" x2="276.3" y2="361.5" stroke="#d6d6d6" stroke-width="0.8"/>
  <line x1="278.5" y1="342" x2="278.5" y2="358" stroke="#d6d6d6" stroke-width="0.8"/>
  <rect x="278.8" y="346" width="1.8" height="3" fill="none" stroke="#d6d6d6" stroke-width="0.6"/>
  <path d="M193.4,345 q-2.2,2 -1,5.2" fill="none" stroke="#d6d6d6" stroke-width="0.7"/>
  <line x1="150.6" y1="357.8" x2="192" y2="357.8" stroke="#d6d6d6" stroke-width="0.8"/>
  <path d="M144.6,361.4 L148,361.4 L150.6,357.8" fill="none" stroke="#d6d6d6" stroke-width="0.8"/>
  <line x1="148" y1="361.4" x2="270.5" y2="361.4" stroke="#d6d6d6" stroke-width="0.8"/>
  <line x1="278.5" y1="358" x2="316" y2="358" stroke="#d6d6d6" stroke-width="0.8"/>
  <path d="M316,358 L320.5,361.4" fill="none" stroke="#d6d6d6" stroke-width="0.8"/>
  <line x1="270.5" y1="361.4" x2="320.5" y2="361.4" stroke="#9a9a9a" stroke-width="0.7"/>
  <line x1="270.7" y1="358.5" x2="270.7" y2="394.5" stroke="#d6d6d6" stroke-width="0.8"/>
  <line x1="281.5" y1="358.5" x2="281.5" y2="394.5" stroke="#d6d6d6" stroke-width="0.8"/>
  <line x1="292.3" y1="358.5" x2="292.3" y2="394.5" stroke="#d6d6d6" stroke-width="0.8"/>
  <line x1="302.5" y1="358.5" x2="302.5" y2="394.5" stroke="#d6d6d6" stroke-width="0.8"/>
  <line x1="303.3" y1="322.5" x2="303.3" y2="358" stroke="#d6d6d6" stroke-width="0.8"/>
  <line x1="305.5" y1="322.5" x2="305.5" y2="358" stroke="#d6d6d6" stroke-width="0.7"/>
  <line x1="310.8" y1="330" x2="310.8" y2="358" stroke="#d6d6d6" stroke-width="0.8"/>
  <line x1="319" y1="322.5" x2="319" y2="360" stroke="#d6d6d6" stroke-width="0.8"/>
  <line x1="322.8" y1="322.5" x2="322.8" y2="361" stroke="#d6d6d6" stroke-width="0.8"/>
  <line x1="376.8" y1="322.5" x2="376.8" y2="394.5" stroke="#d6d6d6" stroke-width="0.8"/>
  <line x1="386.5" y1="322.5" x2="386.5" y2="394.5" stroke="#d6d6d6" stroke-width="0.8"/>
  <line x1="397.8" y1="322.5" x2="397.8" y2="394.5" stroke="#d6d6d6" stroke-width="0.8"/>
  <line x1="422.2" y1="322.5" x2="422.2" y2="394.5" stroke="#d6d6d6" stroke-width="0.8"/>
  <line x1="434.8" y1="322.5" x2="434.8" y2="394.5" stroke="#d6d6d6" stroke-width="0.8"/>
  <line x1="407.6" y1="322.5" x2="407.6" y2="394.5" stroke="#d6d6d6" stroke-width="0.7"/>
  <line x1="409.2" y1="322.5" x2="409.2" y2="394.5" stroke="#d6d6d6" stroke-width="0.7"/>
  <line x1="137" y1="395.5" x2="137" y2="402" stroke="#bcbcbc" stroke-width="0.7"/>
  <line x1="145.2" y1="395.5" x2="145.2" y2="402" stroke="#bcbcbc" stroke-width="0.7"/>
  <line x1="165.5" y1="395.5" x2="165.5" y2="402" stroke="#bcbcbc" stroke-width="0.7"/>
  <line x1="407.5" y1="395.5" x2="407.5" y2="402" stroke="#bcbcbc" stroke-width="0.7"/>
  <line x1="427.8" y1="395.5" x2="427.8" y2="402" stroke="#bcbcbc" stroke-width="0.7"/>
  <line x1="436.8" y1="395.5" x2="436.8" y2="402" stroke="#bcbcbc" stroke-width="0.7"/>
  <rect x="182.8" y="303.6" width="20.8" height="7" rx="1.4" fill="#f3f3f3" stroke="#6a6a6a" stroke-width="0.5"/>
  <rect x="183.2" y="305" width="3" height="5" fill="#b9b9b9"/>
  <rect x="200.2" y="305" width="3" height="5" fill="#b9b9b9"/>
  <rect x="191.9" y="305" width="2.6" height="5" fill="#cfcfcf"/>
  <rect x="182.6" y="303.5" width="21.2" height="1.6" rx="0.8" fill="#1a1a1a"/>
  <path d="M173.8,322.5 L174.4,316 L212,316 L212.6,322.5 Z" fill="#000"/>
  <rect x="174.4" y="309.4" width="37.6" height="8.4" rx="3.4" ry="3.6" fill="#f2ec1e"/>
  <rect x="174.4" y="313.5" width="37.6" height="4.3" rx="1.2" fill="#f2ec1e"/>
  <line x1="177.9" y1="311.2" x2="208.5" y2="311.2" stroke="#fbf78a" stroke-width="1.1"/>
  <line x1="175" y1="314.2" x2="211.4" y2="314.2" stroke="#a8a400" stroke-width="0.9"/>
  <line x1="187.2" y1="320.6" x2="199.2" y2="320.6" stroke="#8a8a8a" stroke-width="0.9"/>
  <rect x="274.8" y="303.6" width="20.8" height="7" rx="1.4" fill="#f3f3f3" stroke="#6a6a6a" stroke-width="0.5"/>
  <rect x="275.2" y="305" width="3" height="5" fill="#b9b9b9"/>
  <rect x="292.2" y="305" width="3" height="5" fill="#b9b9b9"/>
  <rect x="283.9" y="305" width="2.6" height="5" fill="#cfcfcf"/>
  <rect x="274.6" y="303.5" width="21.2" height="1.6" rx="0.8" fill="#1a1a1a"/>
  <path d="M265.8,322.5 L266.4,316 L304,316 L304.6,322.5 Z" fill="#000"/>
  <rect x="266.4" y="309.4" width="37.6" height="8.4" rx="3.4" ry="3.6" fill="#12ae12"/>
  <rect x="266.4" y="313.5" width="37.6" height="4.3" rx="1.2" fill="#12ae12"/>
  <line x1="269.9" y1="311.2" x2="300.5" y2="311.2" stroke="#5fe05f" stroke-width="1.1"/>
  <line x1="267" y1="314.2" x2="303.4" y2="314.2" stroke="#087808" stroke-width="0.9"/>
  <line x1="279.2" y1="320.6" x2="291.2" y2="320.6" stroke="#8a8a8a" stroke-width="0.9"/>
  <rect x="365.8" y="303.6" width="20.8" height="7" rx="1.4" fill="#f3f3f3" stroke="#6a6a6a" stroke-width="0.5"/>
  <rect x="366.2" y="305" width="3" height="5" fill="#b9b9b9"/>
  <rect x="383.2" y="305" width="3" height="5" fill="#b9b9b9"/>
  <rect x="374.9" y="305" width="2.6" height="5" fill="#cfcfcf"/>
  <rect x="365.6" y="303.5" width="21.2" height="1.6" rx="0.8" fill="#1a1a1a"/>
  <path d="M356.8,322.5 L357.4,316 L395,316 L395.6,322.5 Z" fill="#000"/>
  <rect x="357.4" y="309.4" width="37.6" height="8.4" rx="3.4" ry="3.6" fill="#1f1fce"/>
  <rect x="357.4" y="313.5" width="37.6" height="4.3" rx="1.2" fill="#1f1fce"/>
  <line x1="360.9" y1="311.2" x2="391.5" y2="311.2" stroke="#5a5af0" stroke-width="1.1"/>
  <line x1="358" y1="314.2" x2="394.4" y2="314.2" stroke="#12128a" stroke-width="0.9"/>
  <line x1="370.2" y1="320.6" x2="382.2" y2="320.6" stroke="#8a8a8a" stroke-width="0.9"/>
  </g>
  <g id="endview">
  <path d="M576.8,395 L577.6,324 Q577.8,321.8 580.2,321.8 L771,321.8 Q773.2,321.8 773.3,324 L774,395 Z" fill="#000"/>
  <rect x="568.2" y="403" width="213.6" height="13" rx="1.5" fill="#fff" stroke="#1a1a1a" stroke-width="1"/>
  <rect x="569.2" y="394.6" width="211.4" height="8.6" fill="#000"/>
  <line x1="578" y1="324.1" x2="773" y2="324.1" stroke="#bdbdbd" stroke-width="0.8"/>
  <line x1="577" y1="394.8" x2="774" y2="394.8" stroke="#c8c8c8" stroke-width="0.8"/>
  <line x1="586.7" y1="322.5" x2="586.7" y2="394.5" stroke="#d6d6d6" stroke-width="0.8"/>
  <line x1="599.8" y1="322.5" x2="599.8" y2="394.5" stroke="#d6d6d6" stroke-width="0.8"/>
  <line x1="612.8" y1="322.5" x2="612.8" y2="394.5" stroke="#d6d6d6" stroke-width="0.8"/>
  <line x1="623.8" y1="322.5" x2="623.8" y2="394.5" stroke="#d6d6d6" stroke-width="0.8"/>
  <line x1="635.8" y1="322.5" x2="635.8" y2="394.5" stroke="#d6d6d6" stroke-width="0.8"/>
  <line x1="645.5" y1="322.5" x2="645.5" y2="394.5" stroke="#d6d6d6" stroke-width="0.8"/>
  <line x1="705.7" y1="322.5" x2="705.7" y2="394.5" stroke="#d6d6d6" stroke-width="0.8"/>
  <line x1="715.2" y1="322.5" x2="715.2" y2="394.5" stroke="#d6d6d6" stroke-width="0.8"/>
  <line x1="726.8" y1="322.5" x2="726.8" y2="394.5" stroke="#d6d6d6" stroke-width="0.8"/>
  <line x1="737.6" y1="322.5" x2="737.6" y2="394.5" stroke="#d6d6d6" stroke-width="0.8"/>
  <line x1="751" y1="322.5" x2="751" y2="394.5" stroke="#d6d6d6" stroke-width="0.8"/>
  <line x1="764.2" y1="322.5" x2="764.2" y2="394.5" stroke="#d6d6d6" stroke-width="0.8"/>
  <line x1="585.5" y1="395.5" x2="585.5" y2="402" stroke="#bcbcbc" stroke-width="0.7"/>
  <line x1="594.2" y1="395.5" x2="594.2" y2="402" stroke="#bcbcbc" stroke-width="0.7"/>
  <line x1="614.3" y1="395.5" x2="614.3" y2="402" stroke="#bcbcbc" stroke-width="0.7"/>
  <line x1="735.8" y1="395.5" x2="735.8" y2="402" stroke="#bcbcbc" stroke-width="0.7"/>
  <line x1="757" y1="395.5" x2="757" y2="402" stroke="#bcbcbc" stroke-width="0.7"/>
  <line x1="765.3" y1="395.5" x2="765.3" y2="402" stroke="#bcbcbc" stroke-width="0.7"/>
  <rect x="663" y="303.6" width="20.8" height="7" rx="1.4" fill="#f3f3f3" stroke="#6a6a6a" stroke-width="0.5"/>
  <rect x="663.4" y="305" width="3" height="5" fill="#b9b9b9"/>
  <rect x="680.4" y="305" width="3" height="5" fill="#b9b9b9"/>
  <rect x="672.1" y="305" width="2.6" height="5" fill="#cfcfcf"/>
  <rect x="662.8" y="303.5" width="21.2" height="1.6" rx="0.8" fill="#1a1a1a"/>
  <path d="M654,322.5 L654.6,316 L692.2,316 L692.8,322.5 Z" fill="#000"/>
  <rect x="654.6" y="309.4" width="37.6" height="8.4" rx="3.4" ry="3.6" fill="#1f1fce"/>
  <rect x="654.6" y="313.5" width="37.6" height="4.3" rx="1.2" fill="#1f1fce"/>
  <line x1="658.1" y1="311.2" x2="688.7" y2="311.2" stroke="#5a5af0" stroke-width="1.1"/>
  <line x1="655.2" y1="314.2" x2="691.6" y2="314.2" stroke="#12128a" stroke-width="0.9"/>
  <line x1="667.4" y1="320.6" x2="679.4" y2="320.6" stroke="#8a8a8a" stroke-width="0.9"/>
  <rect x="729.9" y="303.6" width="20.8" height="7" rx="1.4" fill="#f3f3f3" stroke="#6a6a6a" stroke-width="0.5"/>
  <rect x="730.3" y="305" width="3" height="5" fill="#b9b9b9"/>
  <rect x="747.3" y="305" width="3" height="5" fill="#b9b9b9"/>
  <rect x="739" y="305" width="2.6" height="5" fill="#cfcfcf"/>
  <rect x="729.7" y="303.5" width="21.2" height="1.6" rx="0.8" fill="#1a1a1a"/>
  <path d="M720.9,322.5 L721.5,316 L759.1,316 L759.7,322.5 Z" fill="#000"/>
  <rect x="721.5" y="309.4" width="37.6" height="8.4" rx="3.4" ry="3.6" fill="#0a0a0a"/>
  <rect x="721.5" y="313.5" width="37.6" height="4.3" rx="1.2" fill="#0a0a0a"/>
  <line x1="725" y1="311.2" x2="755.6" y2="311.2" stroke="#3c3c3c" stroke-width="1.1"/>
  <line x1="722.1" y1="314.2" x2="758.5" y2="314.2" stroke="#9a9a9a" stroke-width="0.9"/>
  <line x1="734.3" y1="320.6" x2="746.3" y2="320.6" stroke="#8a8a8a" stroke-width="0.9"/>
  </g>
  <g id="photo">
  <defs>
  <filter id="pblur" x="-5%" y="-5%" width="110%" height="110%"><feGaussianBlur stdDeviation="0.45"/></filter>
  <linearGradient id="pbody" x1="0" y1="0" x2="1" y2="1"><stop offset="0" stop-color="#1a1c1e"/><stop offset="0.5" stop-color="#1f2123"/><stop offset="1" stop-color="#17191b"/></linearGradient>
  <radialGradient id="pgR" cx="0.42" cy="0.36" r="0.75"><stop offset="0" stop-color="#f26472"/><stop offset="0.62" stop-color="#e23e54"/><stop offset="1" stop-color="#c22c44"/></radialGradient>
  <radialGradient id="pgY" cx="0.42" cy="0.36" r="0.75"><stop offset="0" stop-color="#fbe440"/><stop offset="0.62" stop-color="#f4d61c"/><stop offset="1" stop-color="#d8b80c"/></radialGradient>
  <radialGradient id="pgT" cx="0.42" cy="0.36" r="0.75"><stop offset="0" stop-color="#40ccba"/><stop offset="0.62" stop-color="#26b8a6"/><stop offset="1" stop-color="#168c80"/></radialGradient>
  <radialGradient id="pgB" cx="0.42" cy="0.36" r="0.75"><stop offset="0" stop-color="#3684ee"/><stop offset="0.62" stop-color="#1862d6"/><stop offset="1" stop-color="#0e44a6"/></radialGradient>
  <radialGradient id="pgK" cx="0.42" cy="0.36" r="0.75"><stop offset="0" stop-color="#33363a"/><stop offset="0.62" stop-color="#1f2124"/><stop offset="1" stop-color="#121416"/></radialGradient>
  </defs>
  <g filter="url(#pblur)">
  <path d="M592.3,70.6 L780.6,71.8 L782.2,193.4 L588.2,193.2 Z" fill="#e4e5e6"/>
  <path d="M588.2,191.2 L782.2,191.4 L782.2,193.4 L588.2,193.2 Z" fill="#d2d3d5"/>
  <path d="M604.5,68.6 C606.1,68 609.2,68.2 612,68.2 C614.8,68.2 619,68.2 621,68.4 C623,68.6 619.2,69.4 624,69.6 C628.8,69.8 637.3,69.6 650,69.6 C662.7,69.6 684.3,69.7 700,69.8 C715.7,69.9 736,70.1 744,70 C752,69.9 745.8,69.2 748,69 C750.2,68.8 754.6,68.7 757,68.8 C759.4,68.9 761,69.1 762.5,69.6 C764,70.1 765,71 766,72 C767,73 767.4,74.2 768.2,75.6 C769,77 769.5,79.3 770.6,80.6 C771.7,81.9 773.1,82.6 774.6,83.4 C776.1,84.2 778.1,84.4 779.4,85.4 C780.7,86.4 781.6,87.2 782.2,89.6 C782.8,92 782.8,96.1 782.8,100 C782.8,103.9 782.5,109.3 782.2,113 C781.9,116.7 781.2,115.8 781,122 C780.8,128.2 780.9,144 781,150 C781.1,156 781.2,155.8 781.6,158 C782,160.2 783.2,161.2 783.6,163 C784,164.8 784.1,167.1 783.8,169 C783.5,170.9 783,172.8 782,174.4 C781,176 779.7,177.3 778,178.4 C776.3,179.5 773.2,180 771.6,181.2 C770,182.4 769.1,184.1 768.2,185.6 C767.3,187.1 767.4,189.4 766,190.4 C764.6,191.4 771,191.5 760,191.8 C749,192.1 720,192 700,192 C680,192 654.3,192 640,192 C625.7,192 619,192.1 614,191.8 C609,191.5 611.3,191.2 610,190.2 C608.7,189.2 607.6,187.2 606.2,185.6 C604.8,184 603.5,181.8 601.6,180.6 C599.7,179.4 597.1,178.9 595,178.2 C592.9,177.5 590.6,177.3 589,176.2 C587.4,175.1 586.2,173.3 585.6,171.4 C585,169.5 585.1,167.1 585.4,165 C585.7,162.9 586.7,161 587.2,159 C587.7,157 588.5,154.8 588.6,153 C588.7,151.2 587.8,151 587.6,148 C587.4,145 587.4,137.7 587.6,135 C587.8,132.3 588.7,134.1 588.8,131.6 C588.9,129.1 588.4,125.3 588.4,120 C588.4,114.7 588.9,104.7 589,100 C589.1,95.3 588.8,94.1 589,92 C589.2,89.9 589.4,88.5 590.4,87.2 C591.4,85.9 593.3,85.1 594.8,84.2 C596.3,83.3 598.3,82.8 599.4,81.6 C600.5,80.4 600.9,78.6 601.4,77 C601.9,75.4 602.1,73.2 602.6,71.8 C603.1,70.4 602.9,69.2 604.5,68.6Z" fill="url(#pbody)"/>
  <filter id="pblur2" x="-10%" y="-10%" width="120%" height="120%"><feGaussianBlur stdDeviation="2.2"/></filter>
  <path d="M595,90 Q595,75 610,74.5 L758,75 Q775,75.5 775.5,92 L775,157 L700,158 L597,157 Z" fill="#383c3f" opacity="0.85" filter="url(#pblur2)"/>
  <path d="M704,159 L770,159 Q775,168 771,176 Q764,180 762,189 L704,190 Z" fill="#2c2f32" opacity="0.8"/>
  <circle cx="597.8" cy="76.6" r="2.7" fill="#f4f4f4" stroke="#3a3d40" stroke-width="1.1"/>
  <circle cx="774.6" cy="76.8" r="2.7" fill="#f4f4f4" stroke="#3a3d40" stroke-width="1.1"/>
  <circle cx="595.5" cy="185.4" r="2.7" fill="#f4f4f4" stroke="#3a3d40" stroke-width="1.1"/>
  <circle cx="773.6" cy="186.2" r="2.7" fill="#f4f4f4" stroke="#3a3d40" stroke-width="1.1"/>
  <rect x="602" y="81.8" width="67.4" height="33.2" rx="2" fill="#f3f3f2"/>
  <rect x="606.2" y="84.4" width="18" height="5.3" fill="#2a2a2a"/>
  <g font-family="'Liberation Sans','Noto Sans CJK SC',sans-serif" fill="#a2a2a2">
  <text x="607" y="88.9" font-size="4.6" fill="#e9e9e9" font-weight="700" textLength="16.4" lengthAdjust="spacingAndGlyphs">南京远驱</text>
  <text x="626.6" y="89" font-size="4.4" fill="#8e8e8e" textLength="20.5" lengthAdjust="spacingAndGlyphs">永磁同步控制器</text>
  <text x="606.2" y="94.4" font-size="4.4" fill="#8e8e8e" textLength="40.6" lengthAdjust="spacingAndGlyphs">型号: ND72680_12_8_300J</text>
  <text x="606.2" y="99.8" font-size="4" textLength="40" lengthAdjust="spacingAndGlyphs">额定电压: 72V 相电流: 680A</text>
  <text x="606.2" y="104.4" font-size="4" textLength="29" lengthAdjust="spacingAndGlyphs">出厂编号: 01245 2020-07</text>
  <text x="610" y="113.8" font-size="4" fill="#7c7c7c" textLength="42" lengthAdjust="spacingAndGlyphs">编号: 72103-N6-1909260352</text>
  </g>
  <path d="M606.4,105.3h0.7v5.1h-0.7zM609.1,105.3h0.5v5.1h-0.5zM610.2,105.3h1v5.1h-1zM611.6,105.3h1.4v5.1h-1.4zM613.9,105.3h1.4v5.1h-1.4zM619.6,105.3h0.5v5.1h-0.5zM621,105.3h0.5v5.1h-0.5zM621.9,105.3h1v5.1h-1zM629.9,105.3h1v5.1h-1zM631.3,105.3h1.4v5.1h-1.4zM635.6,105.3h1.4v5.1h-1.4zM637.6,105.3h1v5.1h-1zM644.4,105.3h1v5.1h-1zM647.8,105.3h0.5v5.1h-0.5zM650.5,105.3h1v5.1h-1zM652.1,105.3h0.5v5.1h-0.5zM653.5,105.3h0.5v5.1h-0.5zM654.9,105.3h1v5.1h-1zM657.8,105.3h0.5v5.1h-0.5zM660.3,105.3h1v5.1h-1z" fill="#777"/>
  <path d="M648.5,84.4h0.9v0.9h-0.9zM651.2,84.4h0.9v0.9h-0.9zM652.2,84.4h0.9v0.9h-0.9zM659.5,84.4h0.9v0.9h-0.9zM661.3,84.4h0.9v0.9h-0.9zM662.2,84.4h0.9v0.9h-0.9zM665.9,84.4h0.9v0.9h-0.9zM666.8,84.4h0.9v0.9h-0.9zM649.4,85.3h0.9v0.9h-0.9zM652.2,85.3h0.9v0.9h-0.9zM654,85.3h0.9v0.9h-0.9zM655.8,85.3h0.9v0.9h-0.9zM658.6,85.3h0.9v0.9h-0.9zM659.5,85.3h0.9v0.9h-0.9zM662.2,85.3h0.9v0.9h-0.9zM663.1,85.3h0.9v0.9h-0.9zM665,85.3h0.9v0.9h-0.9zM665.9,85.3h0.9v0.9h-0.9zM666.8,85.3h0.9v0.9h-0.9zM648.5,86.2h0.9v0.9h-0.9zM650.3,86.2h0.9v0.9h-0.9zM651.2,86.2h0.9v0.9h-0.9zM653.1,86.2h0.9v0.9h-0.9zM655.8,86.2h0.9v0.9h-0.9zM656.7,86.2h0.9v0.9h-0.9zM658.6,86.2h0.9v0.9h-0.9zM659.5,86.2h0.9v0.9h-0.9zM660.4,86.2h0.9v0.9h-0.9zM662.2,86.2h0.9v0.9h-0.9zM663.1,86.2h0.9v0.9h-0.9zM664,86.2h0.9v0.9h-0.9zM665.9,86.2h0.9v0.9h-0.9zM648.5,87.1h0.9v0.9h-0.9zM649.4,87.1h0.9v0.9h-0.9zM652.2,87.1h0.9v0.9h-0.9zM653.1,87.1h0.9v0.9h-0.9zM654,87.1h0.9v0.9h-0.9zM655.8,87.1h0.9v0.9h-0.9zM658.6,87.1h0.9v0.9h-0.9zM659.5,87.1h0.9v0.9h-0.9zM663.1,87.1h0.9v0.9h-0.9zM664,87.1h0.9v0.9h-0.9zM665,87.1h0.9v0.9h-0.9zM666.8,87.1h0.9v0.9h-0.9zM648.5,88.1h0.9v0.9h-0.9zM649.4,88.1h0.9v0.9h-0.9zM650.3,88.1h0.9v0.9h-0.9zM651.2,88.1h0.9v0.9h-0.9zM653.1,88.1h0.9v0.9h-0.9zM654,88.1h0.9v0.9h-0.9zM657.6,88.1h0.9v0.9h-0.9zM660.4,88.1h0.9v0.9h-0.9zM665,88.1h0.9v0.9h-0.9zM665.9,88.1h0.9v0.9h-0.9zM666.8,88.1h0.9v0.9h-0.9zM648.5,89h0.9v0.9h-0.9zM650.3,89h0.9v0.9h-0.9zM652.2,89h0.9v0.9h-0.9zM658.6,89h0.9v0.9h-0.9zM660.4,89h0.9v0.9h-0.9zM661.3,89h0.9v0.9h-0.9zM664,89h0.9v0.9h-0.9zM666.8,89h0.9v0.9h-0.9zM648.5,89.9h0.9v0.9h-0.9zM650.3,89.9h0.9v0.9h-0.9zM652.2,89.9h0.9v0.9h-0.9zM653.1,89.9h0.9v0.9h-0.9zM655.8,89.9h0.9v0.9h-0.9zM660.4,89.9h0.9v0.9h-0.9zM663.1,89.9h0.9v0.9h-0.9zM664,89.9h0.9v0.9h-0.9zM665,89.9h0.9v0.9h-0.9zM666.8,89.9h0.9v0.9h-0.9zM648.5,90.8h0.9v0.9h-0.9zM650.3,90.8h0.9v0.9h-0.9zM651.2,90.8h0.9v0.9h-0.9zM652.2,90.8h0.9v0.9h-0.9zM653.1,90.8h0.9v0.9h-0.9zM654,90.8h0.9v0.9h-0.9zM656.7,90.8h0.9v0.9h-0.9zM658.6,90.8h0.9v0.9h-0.9zM659.5,90.8h0.9v0.9h-0.9zM660.4,90.8h0.9v0.9h-0.9zM663.1,90.8h0.9v0.9h-0.9zM664,90.8h0.9v0.9h-0.9zM665,90.8h0.9v0.9h-0.9zM665.9,90.8h0.9v0.9h-0.9zM649.4,91.7h0.9v0.9h-0.9zM650.3,91.7h0.9v0.9h-0.9zM651.2,91.7h0.9v0.9h-0.9zM652.2,91.7h0.9v0.9h-0.9zM654.9,91.7h0.9v0.9h-0.9zM657.6,91.7h0.9v0.9h-0.9zM658.6,91.7h0.9v0.9h-0.9zM659.5,91.7h0.9v0.9h-0.9zM661.3,91.7h0.9v0.9h-0.9zM663.1,91.7h0.9v0.9h-0.9zM664,91.7h0.9v0.9h-0.9zM666.8,91.7h0.9v0.9h-0.9zM648.5,92.6h0.9v0.9h-0.9zM649.4,92.6h0.9v0.9h-0.9zM652.2,92.6h0.9v0.9h-0.9zM654.9,92.6h0.9v0.9h-0.9zM655.8,92.6h0.9v0.9h-0.9zM656.7,92.6h0.9v0.9h-0.9zM664,92.6h0.9v0.9h-0.9zM665.9,92.6h0.9v0.9h-0.9zM666.8,92.6h0.9v0.9h-0.9zM649.4,93.5h0.9v0.9h-0.9zM650.3,93.5h0.9v0.9h-0.9zM651.2,93.5h0.9v0.9h-0.9zM653.1,93.5h0.9v0.9h-0.9zM654,93.5h0.9v0.9h-0.9zM655.8,93.5h0.9v0.9h-0.9zM662.2,93.5h0.9v0.9h-0.9zM665.9,93.5h0.9v0.9h-0.9zM649.4,94.5h0.9v0.9h-0.9zM650.3,94.5h0.9v0.9h-0.9zM653.1,94.5h0.9v0.9h-0.9zM654,94.5h0.9v0.9h-0.9zM654.9,94.5h0.9v0.9h-0.9zM657.6,94.5h0.9v0.9h-0.9zM658.6,94.5h0.9v0.9h-0.9zM659.5,94.5h0.9v0.9h-0.9zM660.4,94.5h0.9v0.9h-0.9zM661.3,94.5h0.9v0.9h-0.9zM662.2,94.5h0.9v0.9h-0.9zM665,94.5h0.9v0.9h-0.9zM666.8,94.5h0.9v0.9h-0.9zM652.2,95.4h0.9v0.9h-0.9zM654.9,95.4h0.9v0.9h-0.9zM655.8,95.4h0.9v0.9h-0.9zM659.5,95.4h0.9v0.9h-0.9zM661.3,95.4h0.9v0.9h-0.9zM662.2,95.4h0.9v0.9h-0.9zM663.1,95.4h0.9v0.9h-0.9zM665,95.4h0.9v0.9h-0.9zM665.9,95.4h0.9v0.9h-0.9zM649.4,96.3h0.9v0.9h-0.9zM651.2,96.3h0.9v0.9h-0.9zM654,96.3h0.9v0.9h-0.9zM654.9,96.3h0.9v0.9h-0.9zM655.8,96.3h0.9v0.9h-0.9zM656.7,96.3h0.9v0.9h-0.9zM657.6,96.3h0.9v0.9h-0.9zM658.6,96.3h0.9v0.9h-0.9zM659.5,96.3h0.9v0.9h-0.9zM660.4,96.3h0.9v0.9h-0.9zM662.2,96.3h0.9v0.9h-0.9zM664,96.3h0.9v0.9h-0.9zM665.9,96.3h0.9v0.9h-0.9zM650.3,97.2h0.9v0.9h-0.9zM653.1,97.2h0.9v0.9h-0.9zM655.8,97.2h0.9v0.9h-0.9zM656.7,97.2h0.9v0.9h-0.9zM657.6,97.2h0.9v0.9h-0.9zM662.2,97.2h0.9v0.9h-0.9zM663.1,97.2h0.9v0.9h-0.9zM664,97.2h0.9v0.9h-0.9zM665,97.2h0.9v0.9h-0.9zM649.4,98.1h0.9v0.9h-0.9zM651.2,98.1h0.9v0.9h-0.9zM652.2,98.1h0.9v0.9h-0.9zM654,98.1h0.9v0.9h-0.9zM654.9,98.1h0.9v0.9h-0.9zM656.7,98.1h0.9v0.9h-0.9zM657.6,98.1h0.9v0.9h-0.9zM660.4,98.1h0.9v0.9h-0.9zM661.3,98.1h0.9v0.9h-0.9zM662.2,98.1h0.9v0.9h-0.9zM663.1,98.1h0.9v0.9h-0.9zM664,98.1h0.9v0.9h-0.9zM666.8,98.1h0.9v0.9h-0.9zM649.4,99h0.9v0.9h-0.9zM650.3,99h0.9v0.9h-0.9zM652.2,99h0.9v0.9h-0.9zM654.9,99h0.9v0.9h-0.9zM656.7,99h0.9v0.9h-0.9zM659.5,99h0.9v0.9h-0.9zM663.1,99h0.9v0.9h-0.9zM648.5,99.9h0.9v0.9h-0.9zM649.4,99.9h0.9v0.9h-0.9zM650.3,99.9h0.9v0.9h-0.9zM654,99.9h0.9v0.9h-0.9zM656.7,99.9h0.9v0.9h-0.9zM659.5,99.9h0.9v0.9h-0.9zM661.3,99.9h0.9v0.9h-0.9zM662.2,99.9h0.9v0.9h-0.9zM666.8,99.9h0.9v0.9h-0.9zM648.5,100.9h0.9v0.9h-0.9zM649.4,100.9h0.9v0.9h-0.9zM650.3,100.9h0.9v0.9h-0.9zM654.9,100.9h0.9v0.9h-0.9zM655.8,100.9h0.9v0.9h-0.9zM656.7,100.9h0.9v0.9h-0.9zM658.6,100.9h0.9v0.9h-0.9zM660.4,100.9h0.9v0.9h-0.9zM662.2,100.9h0.9v0.9h-0.9zM663.1,100.9h0.9v0.9h-0.9zM664,100.9h0.9v0.9h-0.9zM666.8,100.9h0.9v0.9h-0.9zM649.4,101.8h0.9v0.9h-0.9zM650.3,101.8h0.9v0.9h-0.9zM651.2,101.8h0.9v0.9h-0.9zM652.2,101.8h0.9v0.9h-0.9zM654.9,101.8h0.9v0.9h-0.9zM655.8,101.8h0.9v0.9h-0.9zM656.7,101.8h0.9v0.9h-0.9zM661.3,101.8h0.9v0.9h-0.9zM662.2,101.8h0.9v0.9h-0.9zM663.1,101.8h0.9v0.9h-0.9zM665.9,101.8h0.9v0.9h-0.9zM666.8,101.8h0.9v0.9h-0.9zM649.4,102.7h0.9v0.9h-0.9zM653.1,102.7h0.9v0.9h-0.9zM658.6,102.7h0.9v0.9h-0.9zM660.4,102.7h0.9v0.9h-0.9zM663.1,102.7h0.9v0.9h-0.9zM665.9,102.7h0.9v0.9h-0.9z" fill="#4c4c4c"/>
  <g font-family="'Liberation Sans',sans-serif" font-size="9" fill="#1e2022" text-anchor="middle">
  <text x="685" y="109.6">B+</text><text x="741.6" y="110">B-</text>
  <text x="626.6" y="149.4">U</text><text x="684.2" y="150">V</text><text x="741" y="150.4">W</text>
  </g>
  <ellipse cx="685.2" cy="88.2" rx="13.3" ry="13.2" fill="#15171a" opacity="0.55"/>
  <circle cx="684.9" cy="87" r="12.6" fill="url(#pgR)"/>
  <circle cx="684.9" cy="87.5" r="11.3" fill="none" stroke="#a8243a" stroke-width="1.1" opacity="0.55"/>
  <circle cx="684.9" cy="87" r="6.9" fill="#a8243a" opacity="0.55"/>
  <circle cx="684.9" cy="87" r="6.1" fill="#f1efec"/>
  <circle cx="685.1" cy="87.2" r="4.1" fill="#b9b4ae"/>
  <circle cx="685.2" cy="87.3" r="2.7" fill="#17181a"/>
  <ellipse cx="741.3" cy="89" rx="12.5" ry="12.4" fill="#15171a" opacity="0.55"/>
  <circle cx="741" cy="87.8" r="11.8" fill="url(#pgK)"/>
  <circle cx="741" cy="88.3" r="10.5" fill="none" stroke="#0c0d0e" stroke-width="1.1" opacity="0.55"/>
  <circle cx="741" cy="87.8" r="6.9" fill="#0c0d0e" opacity="0.55"/>
  <circle cx="741" cy="87.8" r="6.1" fill="#f1efec"/>
  <circle cx="741.2" cy="88" r="4.1" fill="#b9b4ae"/>
  <circle cx="741.3" cy="88.1" r="2.7" fill="#17181a"/>
  <ellipse cx="626.3" cy="130.7" rx="13.8" ry="13.7" fill="#15171a" opacity="0.55"/>
  <circle cx="626" cy="129.5" r="13.1" fill="url(#pgY)"/>
  <circle cx="626" cy="130" r="11.8" fill="none" stroke="#b89a08" stroke-width="1.1" opacity="0.55"/>
  <circle cx="626" cy="129.5" r="6.9" fill="#b89a08" opacity="0.55"/>
  <circle cx="626" cy="129.5" r="6.1" fill="#f1efec"/>
  <circle cx="626.2" cy="129.7" r="4.1" fill="#b9b4ae"/>
  <circle cx="626.3" cy="129.8" r="2.7" fill="#17181a"/>
  <ellipse cx="684.5" cy="131.3" rx="13.3" ry="13.2" fill="#15171a" opacity="0.55"/>
  <circle cx="684.2" cy="130.1" r="12.6" fill="url(#pgT)"/>
  <circle cx="684.2" cy="130.6" r="11.3" fill="none" stroke="#0e7466" stroke-width="1.1" opacity="0.55"/>
  <circle cx="684.2" cy="130.1" r="6.9" fill="#0e7466" opacity="0.55"/>
  <circle cx="684.2" cy="130.1" r="6.1" fill="#f1efec"/>
  <circle cx="684.4" cy="130.3" r="4.1" fill="#b9b4ae"/>
  <circle cx="684.5" cy="130.4" r="2.7" fill="#17181a"/>
  <ellipse cx="741.3" cy="131.3" rx="13.2" ry="13.1" fill="#15171a" opacity="0.55"/>
  <circle cx="741" cy="130.1" r="12.5" fill="url(#pgB)"/>
  <circle cx="741" cy="130.6" r="11.2" fill="none" stroke="#0c3c90" stroke-width="1.1" opacity="0.55"/>
  <circle cx="741" cy="130.1" r="6.9" fill="#0c3c90" opacity="0.55"/>
  <circle cx="741" cy="130.1" r="6.1" fill="#f1efec"/>
  <circle cx="741.2" cy="130.3" r="4.1" fill="#b9b4ae"/>
  <circle cx="741.3" cy="130.4" r="2.7" fill="#17181a"/>
  <path d="M605,163.5 Q605,160.6 608.5,160.6 L698.5,160.8 Q702,160.8 702.2,164 L702.4,188 Q702.4,191.6 699,191.6 L614,191.6 Q607.4,191 605.6,186 Z" fill="#121315"/>
  <path d="M607.5,163 L612,163 L612.6,186 L609,186 Z" fill="#222527"/>
  <rect x="626.3" y="165.2" width="50" height="23.4" rx="2" fill="#0b0c0d" stroke="#24272a" stroke-width="1"/>
  <circle cx="632.6" cy="172.9" r="0.7" fill="#74777a"/><circle cx="637.1" cy="172.9" r="0.7" fill="#74777a"/><circle cx="641.7" cy="172.9" r="0.7" fill="#74777a"/><circle cx="646.2" cy="172.9" r="0.7" fill="#74777a"/><circle cx="650.8" cy="172.9" r="0.7" fill="#74777a"/><circle cx="655.4" cy="172.9" r="0.7" fill="#74777a"/><circle cx="659.9" cy="172.9" r="0.7" fill="#74777a"/><circle cx="664.5" cy="172.9" r="0.7" fill="#74777a"/><circle cx="669" cy="172.9" r="0.7" fill="#74777a"/><circle cx="673.6" cy="172.9" r="0.7" fill="#74777a"/><circle cx="632.6" cy="177.5" r="0.7" fill="#74777a"/><circle cx="637.1" cy="177.5" r="0.7" fill="#74777a"/><circle cx="641.7" cy="177.5" r="0.7" fill="#74777a"/><circle cx="646.2" cy="177.5" r="0.7" fill="#74777a"/><circle cx="650.8" cy="177.5" r="0.7" fill="#74777a"/><circle cx="655.4" cy="177.5" r="0.7" fill="#74777a"/><circle cx="659.9" cy="177.5" r="0.7" fill="#74777a"/><circle cx="664.5" cy="177.5" r="0.7" fill="#74777a"/><circle cx="669" cy="177.5" r="0.7" fill="#74777a"/><circle cx="673.6" cy="177.5" r="0.7" fill="#74777a"/><circle cx="632.6" cy="181.9" r="0.7" fill="#74777a"/><circle cx="637.1" cy="181.9" r="0.7" fill="#74777a"/><circle cx="641.7" cy="181.9" r="0.7" fill="#74777a"/><circle cx="646.2" cy="181.9" r="0.7" fill="#74777a"/><circle cx="650.8" cy="181.9" r="0.7" fill="#74777a"/><circle cx="655.4" cy="181.9" r="0.7" fill="#74777a"/><circle cx="659.9" cy="181.9" r="0.7" fill="#74777a"/><circle cx="664.5" cy="181.9" r="0.7" fill="#74777a"/><circle cx="669" cy="181.9" r="0.7" fill="#74777a"/><circle cx="673.6" cy="181.9" r="0.7" fill="#74777a"/>
  <g fill="none" stroke="#46494c" stroke-width="0.9">
  <circle cx="739.6" cy="167.3" r="5.2"/><circle cx="739.6" cy="167.3" r="7.6" stroke-dasharray="2.2 2.6"/>
  <path d="M711,164.2h13 M711,170.6h13 M754,164.2h13 M754,170.6h13" stroke-width="1.6" stroke-linecap="round" stroke="#3f4347"/>
  </g>
  <circle cx="621.6" cy="189.6" r="2.3" fill="#c9cbcd"/>
  <circle cx="621.1" cy="189.9" r="1" fill="#77797c"/>
  <circle cx="684.2" cy="189.6" r="2.3" fill="#c9cbcd"/>
  <circle cx="683.7" cy="189.9" r="1" fill="#77797c"/>
  <circle cx="747.3" cy="190.2" r="2.3" fill="#c9cbcd"/>
  <circle cx="746.8" cy="190.5" r="1" fill="#77797c"/>
  </g>
  </g>
  <g id="dims">
  <line x1="120.5" y1="27.5" x2="120.5" y2="64.5" stroke="#161616" stroke-width="1.1"/>
  <line x1="452.3" y1="27.5" x2="452.3" y2="64.5" stroke="#161616" stroke-width="1.1"/>
  <line x1="120.5" y1="33" x2="250.5" y2="33" stroke="#161616" stroke-width="1.1"/>
  <line x1="301.5" y1="33" x2="452.3" y2="33" stroke="#161616" stroke-width="1.1"/>
  <path d="M120.8,33 L126.6,30.9 L126.6,35.1Z" fill="#111"/>
  <path d="M452,33 L446.2,30.9 L446.2,35.1Z" fill="#111"/>
  <line x1="133.6" y1="45" x2="133.6" y2="71" stroke="#161616" stroke-width="1.1"/>
  <line x1="439.6" y1="45" x2="439.6" y2="74" stroke="#161616" stroke-width="1.1"/>
  <line x1="133.6" y1="51" x2="246" y2="51" stroke="#161616" stroke-width="1.1"/>
  <line x1="294" y1="51" x2="439.6" y2="51" stroke="#161616" stroke-width="1.1"/>
  <path d="M133.9,51 L139.7,48.9 L139.7,53.1Z" fill="#111"/>
  <path d="M439.3,51 L433.5,48.9 L433.5,53.1Z" fill="#111"/>
  <line x1="46" y1="64.3" x2="120.5" y2="64.3" stroke="#161616" stroke-width="1.1"/>
  <line x1="46" y1="277.6" x2="117.5" y2="277.6" stroke="#161616" stroke-width="1.1"/>
  <line x1="51.8" y1="64.3" x2="51.8" y2="161.5" stroke="#161616" stroke-width="1.1"/>
  <line x1="51.8" y1="181.8" x2="51.8" y2="277.6" stroke="#161616" stroke-width="1.1"/>
  <path d="M51.8,64.6 L49.7,70.4 L53.9,70.4Z" fill="#111"/>
  <path d="M51.8,277.3 L49.7,271.5 L53.9,271.5Z" fill="#111"/>
  <line x1="92" y1="77.6" x2="132" y2="77.6" stroke="#161616" stroke-width="1.1"/>
  <line x1="92" y1="264.4" x2="132" y2="264.4" stroke="#161616" stroke-width="1.1"/>
  <line x1="97.5" y1="77.6" x2="97.5" y2="161.5" stroke="#161616" stroke-width="1.1"/>
  <line x1="97.5" y1="181.8" x2="97.5" y2="264.4" stroke="#161616" stroke-width="1.1"/>
  <path d="M97.5,77.9 L95.4,83.7 L99.6,83.7Z" fill="#111"/>
  <path d="M97.5,264.1 L95.4,258.3 L99.6,258.3Z" fill="#111"/>
  <line x1="46" y1="304.4" x2="180.5" y2="304.4" stroke="#161616" stroke-width="1.1"/>
  <line x1="46" y1="416.2" x2="118" y2="416.2" stroke="#161616" stroke-width="1.1"/>
  <line x1="51.8" y1="304.4" x2="51.8" y2="349" stroke="#161616" stroke-width="1.1"/>
  <line x1="51.8" y1="369" x2="51.8" y2="416.2" stroke="#161616" stroke-width="1.1"/>
  <path d="M51.8,304.7 L49.7,310.5 L53.9,310.5Z" fill="#111"/>
  <path d="M51.8,415.9 L49.7,410.1 L53.9,410.1Z" fill="#111"/>
  <line x1="445" y1="322" x2="505" y2="322" stroke="#161616" stroke-width="1.1"/>
  <line x1="455" y1="416.2" x2="505" y2="416.2" stroke="#161616" stroke-width="1.1"/>
  <line x1="498.6" y1="322" x2="498.6" y2="341.5" stroke="#161616" stroke-width="1.1"/>
  <line x1="498.6" y1="359.5" x2="498.6" y2="416.2" stroke="#161616" stroke-width="1.1"/>
  <path d="M498.6,322.3 L496.5,328.1 L500.7,328.1Z" fill="#111"/>
  <path d="M498.6,415.9 L496.5,410.1 L500.7,410.1Z" fill="#111"/>
  <path d="M434.6,80.6 L462.5,67.3 L477.5,66.8" fill="none" stroke="#161616" stroke-width="1.2"/>
  <path d="M434.2,80.9 L441.2,76.1 L442.2,78.2 Z" fill="#111"/>
  <path d="M452,157.6 L461,156.6 L475,156.2" fill="none" stroke="#161616" stroke-width="1.2"/>
  <text class="dim" x="255.4" y="37.8" textLength="42.6" lengthAdjust="spacingAndGlyphs">189mm</text>
  <text class="dim" x="249.2" y="55.8" textLength="42.2" lengthAdjust="spacingAndGlyphs">174mm</text>
  <text class="dim" x="31.2" y="175.3" textLength="86.4" lengthAdjust="spacingAndGlyphs">121mm 106mm</text>
  <text class="dim" x="28" y="363.5">63.5mm</text>
  <text class="dim" x="474" y="355.2">53.5mm</text>
  <text class="dim" x="482.5" y="72.2" font-size="14">Ø7.5mm</text>
  <text class="ser" x="538.4" y="71.4" font-size="10" font-weight="700" text-anchor="middle">＊</text>
  <text class="ser" x="551.6" y="72.2" font-size="13.5" text-anchor="middle">4</text>
  <text class="ser" y="160.4" font-size="12.6" text-anchor="middle" stroke="#1c1c1c" stroke-width="0.25" x="486.2 500 512.6 527 538.6 551 562.6">M6<tspan font-size="10" font-weight="700" dy="-0.8">＊</tspan><tspan dy="0.8">20－5</tspan></text>
  </g>
</svg>
</body>
</html>
